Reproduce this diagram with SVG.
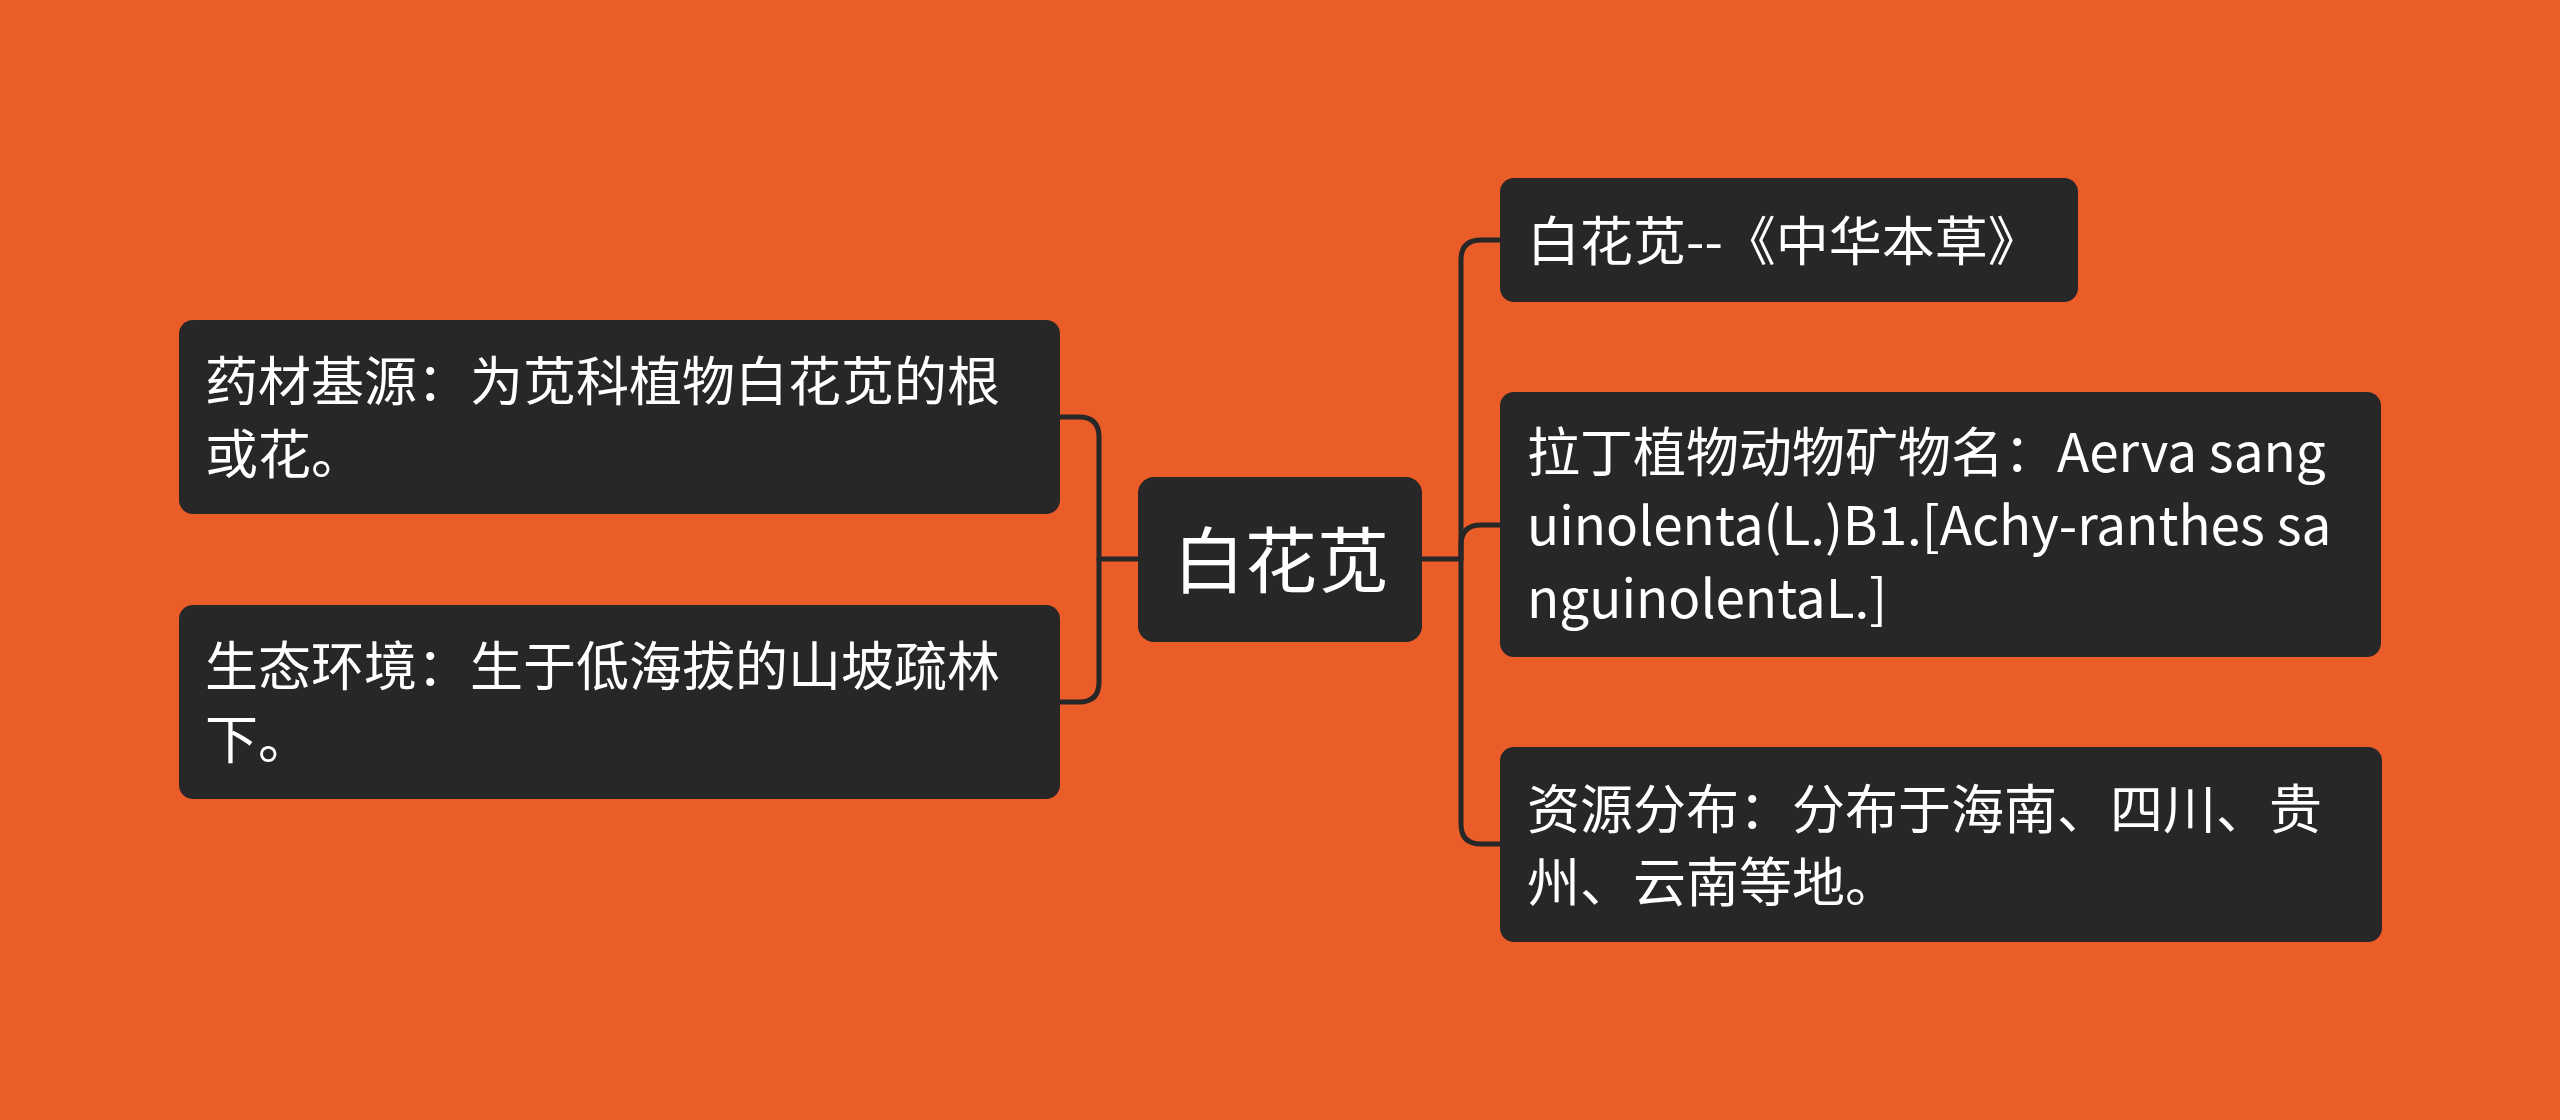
<svg xmlns="http://www.w3.org/2000/svg" width="2560" height="1120" viewBox="0 0 2560 1120">
<style>
.bg{fill:#EA5D29}
.node{fill:#272727}
.t{font-family:"Noto Sans CJK SC","Noto Sans",sans-serif;fill:#ffffff;font-size:53px}
.tc{font-family:"Noto Sans CJK SC","Noto Sans",sans-serif;fill:#ffffff;font-size:72px;text-anchor:middle}
.edge{fill:none;stroke:#272727;stroke-width:5;stroke-linecap:round;stroke-linejoin:round}
</style>
<rect class="bg" x="0" y="0" width="2560" height="1120"/>
<g id="connectors">
<path class="edge" d="M1138 559 H1099 V437 Q1099 417 1079 417 H1060"/>
<path class="edge" d="M1099 559 V682 Q1099 702 1079 702 H1060"/>
<path class="edge" d="M1422 559 H1461 V260 Q1461 240 1481 240 H1500"/>
<path class="edge" d="M1461 559 V545 Q1461 525 1481 525 H1500"/>
<path class="edge" d="M1461 559 V824 Q1461 844 1481 844 H1500"/>
</g>
<g id="center">
<rect class="node" x="1138" y="477" width="284" height="165" rx="16"/>
<text class="tc" x="1281" y="587">白花苋</text>
</g>
<g id="left1">
<rect class="node" x="179" y="320" width="881" height="194" rx="14"/>
<text class="t" x="205" y="401">药材基源：为苋科植物白花苋的根</text>
<text class="t" x="205" y="474">或花。</text>
</g>
<g id="left2">
<rect class="node" x="179" y="605" width="881" height="194" rx="14"/>
<text class="t" x="205" y="686">生态环境：生于低海拔的山坡疏林</text>
<text class="t" x="205" y="759">下。</text>
</g>
<g id="right1">
<rect class="node" x="1500" y="178" width="578" height="124" rx="14"/>
<text class="t" x="1527" y="261">白花苋--《中华本草》</text>
</g>
<g id="right2">
<rect class="node" x="1500" y="392" width="881" height="265" rx="14"/>
<text class="t" x="1527" y="472">拉丁植物动物矿物名：Aerva sang</text>
<text class="t" x="1527" y="545">uinolenta(L.)B1.[Achy-ranthes sa</text>
<text class="t" x="1527" y="618">nguinolentaL.]</text>
</g>
<g id="right3">
<rect class="node" x="1500" y="747" width="882" height="195" rx="14"/>
<text class="t" x="1527" y="829">资源分布：分布于海南、四川、贵</text>
<text class="t" x="1527" y="902">州、云南等地。</text>
</g>
</svg>
